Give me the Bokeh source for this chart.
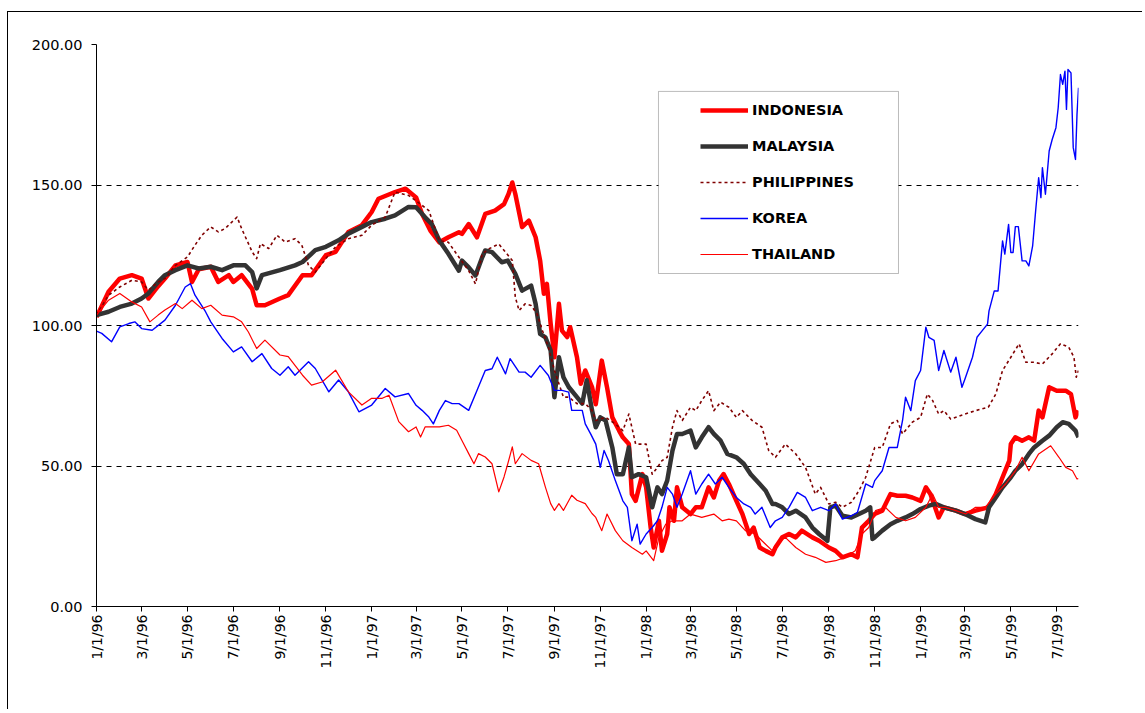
import math
import pandas as pd
from bokeh.plotting import figure
from bokeh.models import (FixedTicker, NumeralTickFormatter, Range1d, Legend,
                          LegendItem, BoxAnnotation, ColumnDataSource)
from bokeh.embed import file_html
from bokeh.resources import INLINE

START = "1996-01-01"   # x values are days since this date
X_END = 1306

tick_labels = ["1/1/96", "3/1/96", "5/1/96", "7/1/96", "9/1/96", "11/1/96",
               "1/1/97", "3/1/97", "5/1/97", "7/1/97", "9/1/97", "11/1/97",
               "1/1/98", "3/1/98", "5/1/98", "7/1/98", "9/1/98", "11/1/98",
               "1/1/99", "3/1/99", "5/1/99", "7/1/99"]
y_ticks = [0, 50, 100, 150, 200]

# (day since 1/1/96, index value)
indonesia = [(0,103),(16,112),(31,116.7),(47,117.9),(60,116.7),(69,109.6),(82,114),(91,116.7),(105,121.4),(121,122.6),(127,115.5),(136,120),(152,120.9),(162,115.5),(176,117.9),(182,115.5),(193,117.9),(207,113),(213,107.2),(224,107.2),(244,109.6),(255,110.8),(274,117.9),(286,117.9),(305,125),(318,126.2),(335,133.3),(353,135.7),(366,140.4),(375,145.1),(397,147.5),(411,148.7),
    (425,145.6),(433,139.7),(444,133.8),(456,129.6),(468,131.4),(482,133.2),(486,132.6),(495,136.1),(506,131.4),(517,139.7),(530,140.9),(542,143.2),(548,146.8),(553,150.9),(557,146.8),(566,135),(575,137.3),(584,131.4),(590,123.1),(595,111.3),(599,114.8),(604,100.6),(609,88.7),(615,107.7),(619,98.2),(626,95.9),(630,99.4),(639,88.7),(644,79.3),(650,84),(659,78.1),
    (664,72),(672,87.5),(679,78),(686,67.3),(695,62.6),(700,60.2),(708,57.8),(712,40),(717,37.6),(726,47.1),(731,42.4),(737,28.1),(741,21),(748,30.5),(752,19.8),(759,25.8),(762,35.3),(768,30.5),(772,42.4),(779,35.3),(790,32.9),(797,35.3),(805,35.3),(814,42.4),(821,38.8),(828,44.8),(834,47.1),(841,43.6),(851,37.6),(859,32.9),(868,25.8),(874,28.1),(882,21),(890,19.8),(899,18.6),
    (903,21),(912,24.6),(921,25.8),(930,24.6),(938,27),(952,24.6),(961,23.4),(974,21),(983,19.8),(992,17.5),(1004,18.6),(1012,17.5),(1018,28.1),(1027,30.5),(1035,32.9),(1045,34.1),(1056,40),(1065,39.4),(1076,39.4),(1085,38.8),(1096,37.6),(1103,42.4),(1109,40),(1120,31.7),(1127,35.3),(1143,34.1),(1155,32.9),(1169,34.1),(1186,35.3),(1196,40),(1205,46),(1214,51.9),(1216,57.8),(1222,60.2),(1231,59),(1240,60.2),(1247,59),(1253,69.7),(1258,67.3),(1267,78),(1277,76.8),(1289,76.8),(1296,75.6),(1302,67.3),(1306,69.7)]

malaysia = [(0,103.7),(16,104.9),(31,106.6),(47,107.8),(60,109.6),(69,111.4),(82,115.5),(91,117.9),(105,119.7),(121,121.4),(136,120.3),(152,120.9),(167,119.7),(182,121.4),(198,121.4),(207,119),(213,113.2),(220,117.9),(244,119.7),(264,121.4),(274,122.6),(291,126.8),(305,128),(322,130.3),(335,132.7),(353,135.1),(366,136.8),(384,138),(397,139.2),(415,142.2),
    (425,142.1),(437,138.5),(446,136.1),(456,130.2),(468,125.5),(482,119.5),(486,123.1),(495,120.7),(504,117.8),(513,124.3),(517,126.7),(526,126.1),(539,122.5),(547,123.1),(557,118.4),(566,112.4),(578,114.2),(584,107.7),(590,97),(597,95.8),(604,91.1),(609,74.5),(615,88.7),(621,81.6),(628,78.1),(639,74.5),(646,72.2),(652,80.5),(659,69.8),
    (664,63.8),(670,67.3),(677,66.2),(686,56.6),(692,47.1),(700,47.1),(708,56.6),(712,46),(721,47.1),(731,46),(739,35.3),(746,42.4),(752,40),(759,44.8),(766,55.5),(772,61.4),(779,61.4),(790,62.6),(797,56.6),(805,60.2),(814,63.8),(821,61.4),(830,59),(839,54.3),(851,53.1),(861,50.7),(870,47.1),(882,43.6),(890,41.2),(899,36.5),
    (903,36.5),(912,35.3),(921,32.9),(930,34.1),(943,31.7),(952,28.1),(961,25.8),(972,23.4),(976,35.3),(983,35.9),(992,32.3),(1004,31.7),(1014,32.9),(1023,34.1),(1029,35.3),(1032,24),(1035,24.6),(1045,27),(1056,29.3),(1065,30.5),(1076,31.7),(1085,32.9),(1096,34.7),(1107,35.9),(1116,36.5),(1127,35.3),(1143,34.1),(1155,32.9),(1169,31.1),(1182,29.9),(1187,35.3),(1196,38.8),(1205,42.4),(1216,46),(1222,48.3),(1231,50.7),(1240,54.3),(1247,56.6),(1258,59),(1267,60.8),(1277,63.8),(1285,65.6),(1293,65),(1302,62.6),(1306,60.2)]

philippines = [(0,103.7),(16,110.8),(31,113.7),(47,116.1),(60,115.5),(69,112.6),(82,115.5),(91,116.7),(105,121.4),(121,124.4),(131,128.6),(140,132.1),(152,135.1),(162,133.3),(171,134.5),(187,138.6),(193,134.5),(207,126.2),(213,123.8),(218,129.1),(229,127.4),(240,132.1),(251,129.7),(264,130.9),(273,128.6),(282,121.4),(291,119),(305,123.8),(318,128),(335,130.9),(353,132.1),(366,135.7),(384,138.6),(397,147.5),(415,146.3),
    (425,144.4),(442,140.9),(456,130.2),(468,129.6),(482,124.3),(495,119.5),(504,114.8),(513,125.5),(522,127.3),(535,129),(544,126.1),(553,123.1),(557,110.1),(562,105.3),(570,107.7),(578,107.1),(586,104.1),(593,98.2),(601,92.3),(609,84),(615,79.3),(621,74.5),(628,74.5),(639,72.2),(650,72.2),(659,69.8),
    (664,66.2),(677,67.3),(690,65),(700,62.6),(708,68.5),(717,57.8),(731,57.8),(739,47.1),(746,49.5),(752,51.9),(759,53.1),(766,63.8),(772,69.7),(779,66.2),(790,70.9),(797,69.7),(805,73.3),(814,76.8),(821,69.7),(830,72.7),(841,70.9),(851,67.3),(859,69.7),(872,66.2),(885,63.8),(894,55.5),(903,53.1),
    (916,57.8),(930,54.3),(943,49.5),(956,40),(963,42.4),(974,36.5),(983,37.1),(992,35.3),(1004,37.1),(1014,41.2),(1023,46),(1035,56.6),(1045,56.6),(1056,65),(1065,66.2),(1072,61.4),(1085,65.6),(1096,67.3),(1105,75.6),(1112,73.3),(1120,68.5),(1127,69.7),(1136,66.7),(1155,68.5),(1169,69.7),(1186,70.9),(1196,75.6),(1205,84),(1216,88.7),(1227,93.5),(1236,86.9),(1247,86.9),(1258,86.3),(1271,89.9),(1282,93.5),(1293,92.3),(1300,88.7),(1303,81.6),(1306,84)]

korea = [(0,98),(7,97.2),(20,94.2),(31,99.5),(43,100.7),(51,101.3),(60,98.9),(74,98.3),(91,101.9),(105,107.2),(118,113.7),(125,114.9),(131,110.8),(145,104.9),(152,101.3),(167,95.4),(182,90.6),(193,92.4),(207,87.1),(220,90),(233,84.7),(244,82.3),(255,85.3),(264,82.3),(282,87.1),(291,84.7),(309,76.4),(322,80.6),(335,76.4),(349,69.3),(366,71.7),(384,77.6),(397,74.6),(415,75.8),
    (425,71.6),(433,69.8),(442,67.4),(448,65),(456,69.8),(464,73.3),(473,72.2),(482,72.2),(495,69.8),(506,76.9),(517,84),(526,84.6),(533,88.7),(544,82.8),(550,88.2),(562,83.4),(570,83.4),(578,81.6),(590,85.8),(601,82.2),(609,76.9),(619,76.9),(628,76.3),(632,69.8),(646,69.8),(650,65),(657,61.5),
    (664,57.8),(670,49.5),(675,55.5),(681,51.9),(690,44.8),(700,37.6),(706,35.3),(712,23.4),(719,29.3),(723,22.2),(731,25.8),(739,28.1),(746,30.5),(752,35.3),(759,42.4),(766,40),(772,35.3),(779,40),(790,48.3),(797,40),(805,43.6),(814,47.1),(823,43.6),(832,46),(841,42.4),(851,38.8),(861,36.5),(870,35.3),(876,32.9),(885,35.3),(896,28.1),
    (903,30.5),(912,31.7),(921,35.3),(932,40.6),(943,38.8),(952,34.1),(963,35.3),(974,34.1),(983,36.5),(992,31.1),(1004,32.3),(1012,33.5),(1023,43.6),(1032,42.4),(1035,44.8),(1045,48.3),(1054,56.6),(1065,56.6),(1072,66.2),(1076,74.5),(1083,69.7),(1089,80.4),(1096,84),(1103,99.4),(1107,95.8),(1114,94.7),(1120,84),(1127,91.1),(1136,83.4),(1143,88.7),(1151,78),(1155,81),(1165,88.7),(1171,95.8),(1178,98.2),(1185,100.5),(1187,105.2),(1194,112.3),(1199,112.3),(1205,130.1),(1208,125.4),(1213,136),(1216,126),(1219,126),(1222,135.2),(1226,135.2),(1231,123),(1236,123),(1240,121.2),(1245,128.3),(1249,140.8),(1253,152.6),(1256,145.5),(1258,156.2),(1262,146.7),(1267,162.1),(1271,166.2),(1276,170.4),(1279,177.5),(1282,189.3),(1285,185.8),(1288,190.5),(1290,176.9),(1292,191.1),(1296,189.9),(1299,163.3),(1302,159.1),(1304,175.1),(1306,184.6)]

thailand = [(0,103.7),(16,109),(31,111.4),(47,108.4),(60,106.6),(71,101.3),(82,103.7),(91,105.5),(105,107.8),(114,106),(127,109),(140,106),(152,107.2),(167,103.7),(182,103.1),(193,101.3),(202,97.7),(213,91.8),(224,94.8),(244,89.5),(255,88.9),(274,82.3),(286,78.8),(300,79.9),(318,84.1),(335,76.4),(353,71.7),(366,74.1),(380,74.1),(389,75.2),(402,65.8),(415,62.2),
    (425,63.9),(431,60.3),(437,63.9),(446,63.9),(456,63.9),(468,64.5),(479,62.7),(486,59.1),(495,54.4),(502,50.8),(508,54.4),(517,53.2),(526,50.8),(535,40.8),(542,46.1),(547,50.8),(553,56.8),(557,50.8),(566,54.4),(578,52),(588,50.8),(597,42.5),(604,36.6),(609,34.2),(615,36.6),(621,34.2),(632,39.6),(639,37.8),(650,36.6),(659,33.1),
    (664,31.7),(672,27),(679,32.9),(690,27),(700,23.4),(712,21),(726,18.6),(731,19.8),(741,16.3),(748,24.6),(757,29.3),(766,30.5),(779,30.5),(790,32.9),(805,31.7),(821,32.9),(832,30.5),(841,31.1),(851,30.5),(863,27),(876,25.8),(885,23.4),(899,19.8),
    (903,22),(916,24.6),(930,21),(943,18.6),(956,17.5),(970,15.7),(983,16.3),(996,17.5),(1009,19.8),(1018,25.8),(1027,28.1),(1036,34.1),(1049,35.3),(1063,31.7),(1076,30.5),(1089,31.7),(1103,35.3),(1112,40),(1120,35.3),(1129,35.3),(1143,34.1),(1156,32.9),(1169,35.3),(1182,35.3),(1196,40),(1209,43.6),(1222,48.3),(1231,53.1),(1240,48.3),(1253,54.3),(1269,57.2),(1280,53.1),(1289,49.5),(1298,48.3),(1304,45.4),(1306,45.5)]

series_names = ["INDONESIA", "MALAYSIA", "PHILIPPINES", "KOREA", "THAILAND"]
series_data = [indonesia, malaysia, philippines, korea, thailand]
series_colors = ["#FF0000", "#333333", "#800000", "#0000FF", "#FF0000"]
series_widths = [4.5, 4.5, 1.6, 1.4, 1.2]
series_dashes = ["solid", "solid", "3 3", "solid", "solid"]

tick_days = [int(d) for d in (pd.to_datetime(tick_labels, format="%m/%d/%y") - pd.Timestamp(START)).days]

p = figure(width=1135, height=698, x_range=Range1d(0, X_END), y_range=Range1d(0, 200),
           output_backend="svg", toolbar_location=None,
           min_border_left=88, min_border_right=65, min_border_top=32, min_border_bottom=104)
p.styles = {"border-top": "1px solid black", "border-left": "1px solid black",
            "margin-left": "7px", "margin-top": "11px"}
p.outline_line_color = None
p.background_fill_color = "white"
p.border_fill_color = "white"

p.xgrid.visible = False
p.ygrid.grid_line_color = "black"
p.ygrid.grid_line_dash = "5 5"
p.ygrid.grid_line_width = 1

xa = p.xaxis[0]
xa.ticker = FixedTicker(ticks=tick_days)
xa.major_label_overrides = {d: lab for d, lab in zip(tick_days, tick_labels)}
xa.major_label_orientation = math.pi / 2
xa.major_label_text_font = "DejaVu Sans"
xa.major_label_text_font_size = "14px"
xa.major_label_standoff = 3

ya = p.yaxis[0]
ya.ticker = FixedTicker(ticks=y_ticks)
ya.formatter = NumeralTickFormatter(format="0.00")
ya.major_label_text_font = "DejaVu Sans"
ya.major_label_text_font_size = "14.5px"
ya.major_label_standoff = 9

for ax in (xa, ya):
    ax.axis_line_color = "black"
    ax.axis_line_width = 1
    ax.major_tick_line_color = "black"
    ax.major_tick_out = 5
    ax.major_tick_in = 0
    ax.minor_tick_line_color = None
    ax.major_label_text_color = "black"

renderers = []
for name, data, col, w, dash in zip(series_names, series_data, series_colors,
                                    series_widths, series_dashes):
    src = ColumnDataSource(dict(x=[d for d, _ in data], y=[v for _, v in data]))
    r = p.line("x", "y", source=src, line_color=col, line_width=w, line_dash=dash,
               line_join="round")
    renderers.append(r)

# legend frame (Excel-style box, wider than its content)
box = BoxAnnotation(left=747.4, right=1066.6, bottom=118.5, top=183.3,
                    fill_color="white", fill_alpha=1.0,
                    line_color="#222222", line_width=1)
p.add_layout(box)

legend = Legend(items=[LegendItem(label=n, renderers=[r]) for n, r in zip(series_names, renderers)],
                location=(604, 342), glyph_width=48, glyph_height=20, label_height=20,
                spacing=16, padding=0, margin=0, label_standoff=4,
                background_fill_alpha=0, border_line_color=None,
                label_text_font="DejaVu Sans", label_text_font_style="bold",
                label_text_font_size="14.5px", label_text_color="black")
p.add_layout(legend)

open("out.html", "w").write(file_html(p, INLINE))
